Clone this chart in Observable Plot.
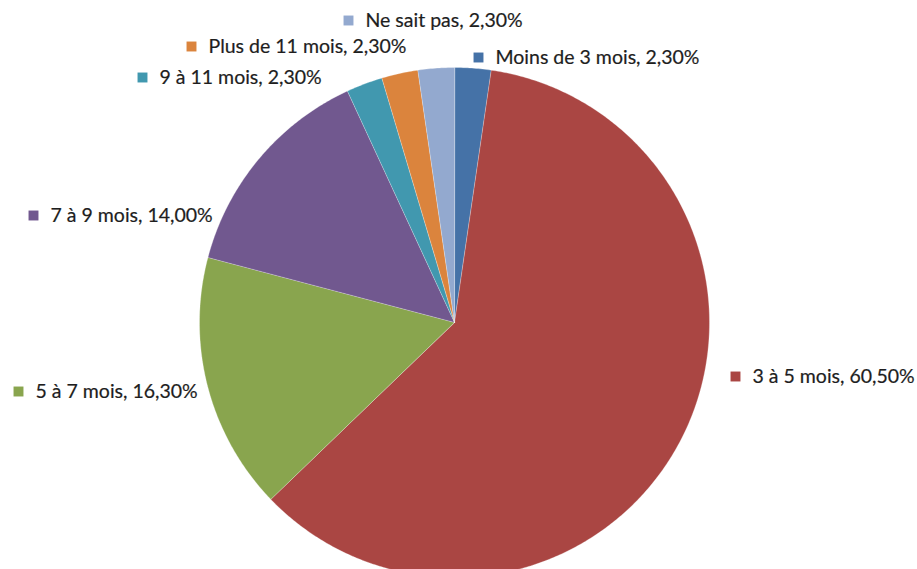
<!DOCTYPE html>
<html>
<head>
<meta charset="utf-8">
<script src="https://cdn.jsdelivr.net/npm/d3@7"></script>
<script src="https://cdn.jsdelivr.net/npm/@observablehq/plot@0.6"></script>
<style>
  html, body { margin: 0; padding: 0; background: #ffffff; }
  #chart { width: 917px; height: 569px; overflow: hidden; }
</style>
</head>
<body>
<div id="chart"></div>
<script>
// ---- data ----
const categories = ["Moins de 3 mois", "3 à 5 mois", "5 à 7 mois", "7 à 9 mois", "9 à 11 mois", "Plus de 11 mois", "Ne sait pas"];
const values = [2.3, 60.5, 16.3, 14.0, 2.3, 2.3, 2.3];
const valueLabels = ["2,30%", "60,50%", "16,30%", "14,00%", "2,30%", "2,30%", "2,30%"];
const colors = ["#4572A7", "#AA4643", "#89A54E", "#71588F", "#4198AF", "#DB843D", "#93A9CF"];

// ---- layout (pixel placement, not data) ----
const W = 917, H = 569;
const cx = 454, cy = 322, R = 255;
// label anchor: left edge of square marker, vertical centre
const labelPos = [
  [473, 57], [730, 376], [13, 391], [28, 215], [137, 77], [186, 46], [343, 20]
];

const total = d3.sum(values);
const polys = [];
let acc = 0;
categories.forEach((c, i) => {
  const a0 = acc / total * 2 * Math.PI;
  acc += values[i];
  const a1 = acc / total * 2 * Math.PI;
  polys.push({key: c, x: cx, y: cy});
  const n = Math.max(2, Math.ceil((a1 - a0) / (Math.PI / 360)));
  for (let k = 0; k <= n; k++) {
    const a = a0 + (a1 - a0) * k / n;
    polys.push({key: c, x: cx + R * Math.sin(a), y: cy - R * Math.cos(a)});
  }
});

const labels = categories.map((c, i) => ({
  key: c,
  text: `${c}, ${valueLabels[i]}`,
  x: labelPos[i][0],
  y: labelPos[i][1]
}));

const chart = Plot.plot({
  width: W,
  height: H,
  margin: 0,
  x: {domain: [0, W], range: [0, W], axis: null},
  y: {domain: [0, H], range: [0, H], axis: null},
  color: {domain: categories, range: colors},
  style: {fontFamily: "Lato, 'Open Sans', sans-serif", background: "#fff"},
  marks: [
    Plot.line(polys, {x: "x", y: "y", z: "key", fill: "key", stroke: "#ffffff", strokeOpacity: 0.35, strokeWidth: 0.8, curve: "linear-closed"}),
    Plot.dot(labels, {x: d => d.x + 5, y: "y", symbol: "square", r: 5.6, fill: "key", stroke: null}),
    Plot.text(labels, {x: d => d.x + 22, y: "y", text: "text", textAnchor: "start", fill: "#1e1e1e", fontSize: 19.5, fontWeight: "normal", stroke: "#1e1e1e", strokeWidth: 0.2})
  ]
});

document.getElementById("chart").appendChild(chart);
</script>
</body>
</html>
